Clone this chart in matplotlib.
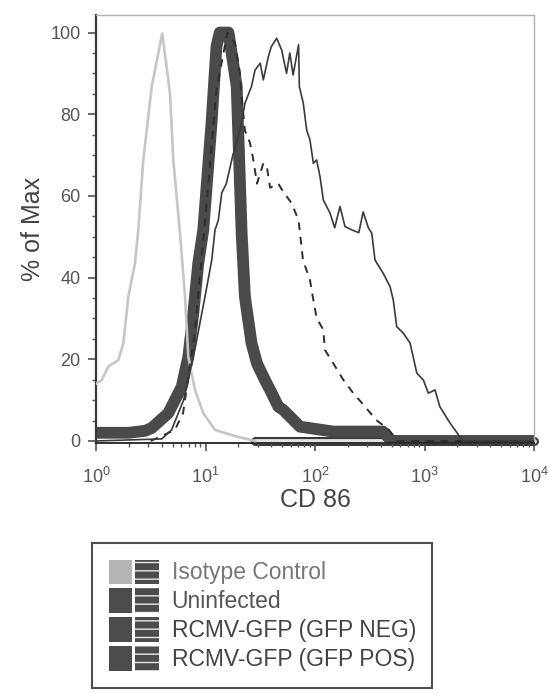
import numpy as np
import matplotlib
matplotlib.use("Agg")
import matplotlib.pyplot as plt
from matplotlib.patches import Patch
from matplotlib.legend_handler import HandlerTuple
from matplotlib.ticker import LogLocator, MultipleLocator

plt.rcParams["font.family"] = ["Liberation Sans", "DejaVu Sans"]
plt.rcParams["mathtext.default"] = "regular"

iso_decade = [0.0, 0.052, 0.112, 0.204, 0.25, 0.295, 0.356, 0.386, 0.432, 0.509, 0.605,
              0.645, 0.676, 0.706, 0.767, 0.813, 0.843, 0.904, 0.98, 1.087, 1.27, 1.45,
              4.0]
iso_pct = [14, 14.9, 18.2, 19.8, 24, 35.3, 43.5, 51.7, 68.8, 86.8, 99.8,
           91.6, 85, 68.8, 50.9, 35.3, 20.6, 12.5, 6.8, 2.7, 1.2, 0,
           0]

unf_decade = [0.0, 0.3, 0.45, 0.51, 0.66, 0.783, 0.843, 0.889, 0.934, 0.98, 1.057, 1.10,
              1.13, 1.21, 1.285, 1.33, 1.36, 1.42, 1.47, 1.543, 1.59, 1.665, 1.71, 1.863,
              2.166, 2.62, 2.7, 4.0]
unf_pct = [2, 2, 2.5, 3.2, 6.8, 13.3, 20.6, 31.3, 43.5, 51.7, 78.6, 96.5,
           100, 100, 86.8, 50.9, 35.3, 24, 19, 14.9, 12.5, 8.4, 7.6, 3.5,
           2.3, 2.3, 0, 0]

neg_decade = [0.5, 0.72, 0.795, 0.9, 1.0, 1.1, 1.2, 1.27, 1.315, 1.33, 1.36, 1.406, 1.437,
              1.47, 1.528, 1.56, 1.59, 1.665, 1.71, 1.787, 1.85, 1.863, 1.89, 1.954, 1.985,
              2.015, 2.076, 2.09, 2.167, 2.26, 2.35, 2.457, 2.56, 2.67, 2.75, 4.0]
neg_pct = [0, 2.7, 6.8, 26, 55, 86, 100, 97.4, 90, 84.3, 76, 73, 68.8,
           63, 68, 67.2, 62, 63, 61, 58.2, 54, 50.9, 44.3, 39.4, 34.5,
           30.1, 27.2, 22.3, 19, 14.9, 11.7, 8.4, 5.1, 2.9, 0, 0]

pos_decade = [0.0, 0.6, 0.69, 0.8, 0.9, 1.0, 1.057, 1.087, 1.117, 1.148, 1.19, 1.25, 1.315,
              1.36, 1.42, 1.452, 1.5, 1.528, 1.573, 1.6, 1.65, 1.696, 1.74, 1.77, 1.8, 1.85,
              1.857, 1.893, 1.924, 1.954, 1.985, 2.015, 2.046, 2.076, 2.137, 2.18, 2.228,
              2.274, 2.335, 2.40, 2.44, 2.487, 2.518, 2.548, 2.624, 2.685, 2.715, 2.746,
              2.806, 2.868, 2.93, 2.99, 3.035, 3.096, 3.14, 3.233, 3.31, 3.35, 4.0]
pos_pct = [0, 0.5, 2.7, 10, 22, 36, 44.3, 51.7, 54, 60.7, 63, 70, 76,
           82.7, 86.8, 90.8, 92.5, 88.4, 94, 96.5, 98.6, 95.7, 90, 95, 89.6, 97,
           86.8, 82.7, 76.1, 73.7, 68, 68.8, 64.7, 59, 55.8, 52.2, 57.4,
           52.5, 51.7, 51, 56.1, 52.2, 50.9, 44.3, 41, 37.8, 34.5, 28,
           26.4, 24, 16.6, 14.9, 11.7, 12.5, 8.4, 4.4, 1.5, 0, 0]

legend_labels = ["Isotype Control", "Uninfected", "RCMV-GFP (GFP NEG)", "RCMV-GFP (GFP POS)"]

fig = plt.figure(figsize=(5.49, 6.94), dpi=100)
ax = fig.add_axes([96 / 549, 1 - 443 / 694, 438 / 549, 428 / 694])

iso_x = np.power(10.0, iso_decade)
iso_y = np.array(iso_pct)
unf_x = np.power(10.0, unf_decade)
unf_y = np.array(unf_pct)

# flat zero tail of the isotype shows as an outlined grey band on the axis
tail = iso_y == 0
ax.plot(iso_x[tail], iso_y[tail], color="#3a3a3a", lw=6.5, solid_capstyle="round",
        zorder=1.5, clip_on=False)
ax.plot(iso_x[tail], iso_y[tail], color="#e2e2e2", lw=3.5, solid_capstyle="round",
        zorder=1.6, clip_on=False)

ax.plot(unf_x, unf_y, color="#4a4a4a", lw=8.5, solid_capstyle="butt", zorder=2)
head = ~tail | (iso_x < 30)
ax.plot(iso_x[head], iso_y[head], color="#c6c6c6", lw=1.9, zorder=3)
ax.plot(np.power(10.0, neg_decade), neg_pct, color="#2e2e2e", lw=1.4, ls=(0, (4, 3.5)), zorder=4)
ax.plot(np.power(10.0, pos_decade), pos_pct, color="#3a3a3a", lw=1.2, zorder=5)

ax.set_xscale("log")
ax.set_xlim(1, 1e4)
ax.set_ylim(-0.5, 104.3)
ax.xaxis.set_major_locator(LogLocator(base=10, numticks=6))
ax.xaxis.set_minor_locator(LogLocator(base=10, subs=np.arange(2, 10), numticks=12))
ax.yaxis.set_major_locator(MultipleLocator(20))
ax.yaxis.set_minor_locator(MultipleLocator(5))
ax.tick_params(axis="both", which="major", direction="out", length=6, width=1.1,
               color="#444444", labelsize=13, labelcolor="#555555")
ax.tick_params(axis="both", which="minor", direction="out", length=3, width=1.0, color="#555555")
ax.tick_params(axis="x", which="major", pad=11)
ax.tick_params(axis="y", which="major", pad=5)

ax.spines["left"].set_color("#3a3a3a")
ax.spines["left"].set_linewidth(1.6)
ax.spines["bottom"].set_color("#222222")
ax.spines["bottom"].set_linewidth(1.3)
for side in ("top", "right"):
    ax.spines[side].set_color("#b0b0b0")
    ax.spines[side].set_linewidth(1.0)

ax.set_xlabel("CD 86", fontsize=18, color="#444444", labelpad=1)
ax.set_ylabel("% of Max", fontsize=18, color="#444444", labelpad=4)

swatch_faces = ["#b5b5b5", "#4c4c4c", "#4c4c4c", "#4c4c4c"]
handles = [(Patch(facecolor=c, edgecolor="none"),
            Patch(facecolor="#4c4c4c", edgecolor="#e8e8e8", hatch="--", linewidth=0))
           for c in swatch_faces]
leg = fig.legend(handles, legend_labels, loc="upper left",
                 bbox_to_anchor=(92 / 549, 1 - 543 / 694),
                 handler_map={tuple: HandlerTuple(ndivide=None, pad=0.12)},
                 fontsize=16.5, frameon=True, fancybox=False, edgecolor="#222222",
                 labelspacing=0.18, handlelength=2.2, handleheight=1.25,
                 handletextpad=0.55, borderpad=0.72, borderaxespad=0)
leg.get_frame().set_linewidth(1.5)
for t, col in zip(leg.get_texts(), ["#777777", "#555555", "#444444", "#444444"]):
    t.set_color(col)

fig.savefig("out.png", dpi=100)
